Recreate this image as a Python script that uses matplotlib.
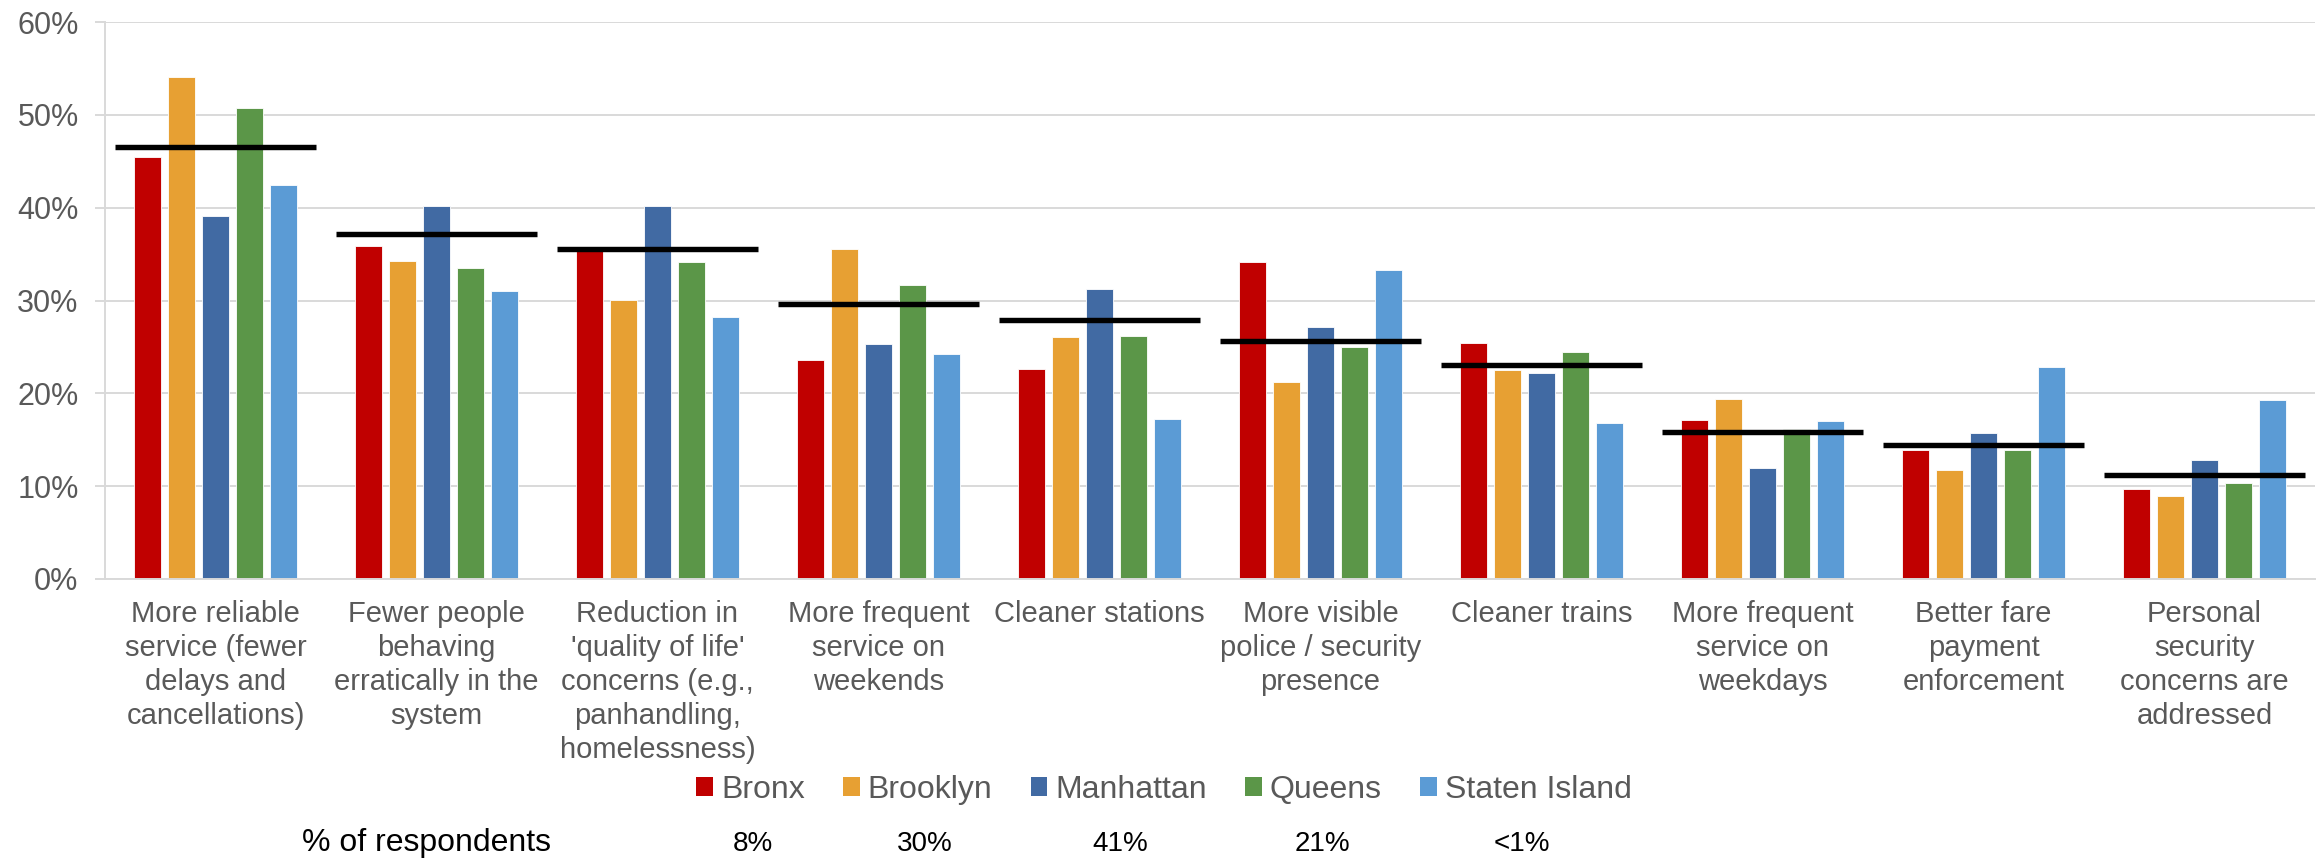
import matplotlib
matplotlib.use("Agg")
import matplotlib.pyplot as plt
from matplotlib.patches import Patch
import numpy as np

plt.rcParams['font.family'] = ['Liberation Sans', 'DejaVu Sans']

categories = [
    "More reliable\nservice (fewer\ndelays and\ncancellations)",
    "Fewer people\nbehaving\nerratically in the\nsystem",
    "Reduction in\n'quality of life'\nconcerns (e.g.,\npanhandling,\nhomelessness)",
    "More frequent\nservice on\nweekends",
    "Cleaner stations",
    "More visible\npolice / security\npresence",
    "Cleaner trains",
    "More frequent\nservice on\nweekdays",
    "Better fare\npayment\nenforcement",
    "Personal\nsecurity\nconcerns are\naddressed",
]

boroughs = ["Bronx", "Brooklyn", "Manhattan", "Queens", "Staten Island"]
bronx     = [45.5, 35.9, 35.4, 23.6, 22.6, 34.2, 25.4, 17.1, 13.9, 9.7]
brooklyn  = [54.1, 34.3, 30.1, 35.5, 26.1, 21.2, 22.5, 19.4, 11.7, 8.9]
manhattan = [39.1, 40.2, 40.2, 25.3, 31.2, 27.1, 22.2, 12.0, 15.7, 12.8]
queens    = [50.7, 33.5, 34.1, 31.7, 26.2, 25.0, 24.4, 16.2, 13.9, 10.3]
staten    = [42.4, 31.0, 28.2, 24.2, 17.2, 33.3, 16.8, 17.0, 22.8, 19.3]
overall   = [46.5, 37.2, 35.5, 29.6, 27.9, 25.6, 23.1, 15.8, 14.4, 11.2]

respondent_share = ["8%", "30%", "41%", "21%", "<1%"]
yticks = [0, 10, 20, 30, 40, 50, 60]

colors = ["#C00000", "#E7A033", "#416AA3", "#5B9648", "#5B9BD5"]
series = [bronx, brooklyn, manhattan, queens, staten]

W, H = 2323, 865
fig = plt.figure(figsize=(W / 100, H / 100), dpi=100)
ax = fig.add_axes([105 / W, 1 - 579 / H, (2315 - 105) / W, (579 - 22) / H])

x = np.arange(len(categories))
pitch = 0.1547
bw = 0.122
for k, (vals, c) in enumerate(zip(series, colors)):
    ax.bar(x + (k - 2) * pitch, np.array(vals) / 100, width=bw, color=c,
           edgecolor="white", linewidth=0.6, zorder=2)

ax.hlines(np.array(overall) / 100, x - 0.4525, x + 0.4525, color="black",
          linewidth=3.9, zorder=3)

ax.set_xlim(-0.5, len(categories) - 0.5)
ax.set_ylim(0, 0.6)
ax.set_yticks(np.array(yticks) / 100)
ax.set_yticklabels([f"{v}%" for v in yticks])
ax.set_xticks(x)
ax.set_xticklabels(categories, linespacing=1.28)

grid_c = "#D9D9D9"
ax.yaxis.grid(True, color=grid_c, linewidth=1.4, zorder=0)
ax.set_axisbelow(True)
for s in ["top", "right"]:
    ax.spines[s].set_visible(False)
for s in ["left", "bottom"]:
    ax.spines[s].set_color(grid_c)
    ax.spines[s].set_linewidth(1.4)
ax.tick_params(axis="y", colors=grid_c, labelcolor="#595959", labelsize=22,
               length=7, width=1.4, pad=12)
ax.tick_params(axis="x", length=0, labelcolor="#595959", labelsize=21, pad=15)

handles = [Patch(facecolor=c, edgecolor="none") for c in colors]
fig.legend(handles, boroughs, loc="center", bbox_to_anchor=(1164 / W, 1 - 790 / H),
           ncol=5, frameon=False, fontsize=23, labelcolor="#595959",
           handlelength=0.52, handleheight=0.52, handletextpad=0.25,
           columnspacing=1.2, borderpad=0, borderaxespad=0)

ty = 1 - 851 / H
fig.text(302 / W, ty, "% of respondents", fontsize=23, color="black",
         ha="left", va="baseline")
for xc, s in zip([753, 925, 1120, 1322, 1522], respondent_share):
    fig.text(xc / W, ty, s, fontsize=20, color="black", ha="center", va="baseline")

fig.savefig("out.png", dpi=100)
